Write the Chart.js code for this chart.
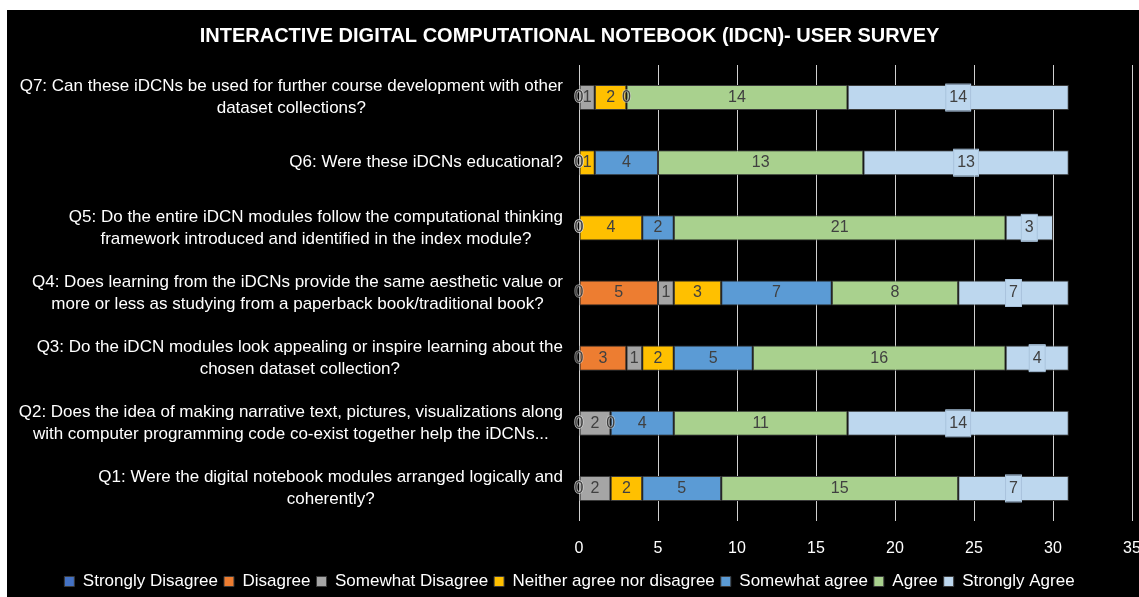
<!DOCTYPE html>
<html>
<head>
<meta charset="utf-8">
<script src="https://cdn.jsdelivr.net/npm/chart.js@4.4.0/dist/chart.umd.min.js"></script>
<style>
  html, body { margin: 0; padding: 0; background: #ffffff; }
  #panel { position: absolute; left: 7px; top: 10px; width: 1132px; height: 587px; background: #000000; overflow: hidden; }
</style>
</head>
<body>
<div id="panel"><canvas id="surveyChart" width="1132" height="587"></canvas></div>
<script>
// Survey questions (top to bottom), each split into the lines shown on the axis
const questions = [
  ['Q7: Can these iDCNs be used for further course development with other', 'dataset collections?'],
  ['Q6: Were these iDCNs educational?'],
  ['Q5: Do the entire iDCN modules follow the computational thinking', 'framework introduced and identified in the index module?'],
  ['Q4: Does learning from the iDCNs provide the same aesthetic value or', 'more or less as studying from a paperback book/traditional book?'],
  ['Q3: Do the iDCN modules look appealing or inspire learning about the', 'chosen dataset collection?'],
  ['Q2: Does the idea of making narrative text, pictures, visualizations along', 'with computer programming code co-exist together help the iDCNs...'],
  ['Q1: Were the digital notebook modules arranged logically and', 'coherently?']
];

// Answer counts per question (Q7 ... Q1)
const stronglyDisagree = [0, 0, 0, 0, 0, 0, 0];
const disagree         = [0, 0, 0, 5, 3, 0, 0];
const somewhatDisagree = [1, 0, 0, 1, 1, 2, 2];
const neither          = [2, 1, 4, 3, 2, 0, 2];
const somewhatAgree    = [0, 4, 2, 7, 5, 4, 5];
const agree            = [14, 13, 21, 8, 16, 11, 15];
const stronglyAgree    = [14, 13, 3, 7, 4, 14, 7];

const xTicks = [0, 5, 10, 15, 20, 25, 30, 35];

const FONT = "'Liberation Sans', Arial, sans-serif";

// draws the multi-line question labels (right aligned block, lines centred)
const questionLabels = {
  id: 'questionLabels',
  afterDraw(chart) {
    const ctx = chart.ctx;
    const yScale = chart.scales.y;
    const right = chart.chartArea.left - 16;
    ctx.save();
    ctx.font = '17px ' + FONT;
    ctx.fillStyle = '#ffffff';
    ctx.textAlign = 'center';
    ctx.textBaseline = 'middle';
    questions.forEach((lines, i) => {
      const y = yScale.getPixelForValue(i);
      let widest = 0;
      lines.forEach(l => { widest = Math.max(widest, ctx.measureText(l).width); });
      const cx = right - widest / 2;
      const lh = 22;
      const top = y - (lines.length - 1) * lh / 2;
      lines.forEach((l, k) => ctx.fillText(l, cx, top + k * lh));
    });
    ctx.restore();
  }
};

// value labels in the middle of each segment
const valueLabels = {
  id: 'valueLabels',
  afterDatasetsDraw(chart) {
    const ctx = chart.ctx;
    ctx.save();
    ctx.font = '16px ' + FONT;
    ctx.textAlign = 'center';
    ctx.textBaseline = 'middle';
    chart.data.datasets.forEach((ds, di) => {
      const meta = chart.getDatasetMeta(di);
      meta.data.forEach((bar, i) => {
        const v = ds.data[i];
        const cx = (bar.x + bar.base) / 2;
        const txt = String(v);
        if (di === chart.data.datasets.length - 1) {
          const w = ctx.measureText(txt).width + 8;
          ctx.fillStyle = '#BDD7EE';
          ctx.strokeStyle = '#a9c3dc';
          ctx.lineWidth = 1;
          ctx.fillRect(cx - w / 2, bar.y - 13, w, 26);
          ctx.strokeRect(cx - w / 2 + 0.5, bar.y - 13.5, w - 1, 27);
        }
        if (v === 0) {
          ctx.lineWidth = 1.5;
          ctx.strokeStyle = 'rgba(220,220,220,0.6)';
          ctx.strokeText(txt, cx, bar.y);
        }
        ctx.fillStyle = '#404040';
        ctx.fillText(txt, cx, bar.y);
      });
    });
    ctx.restore();
  }
};

const ctxBar = document.getElementById('surveyChart');

const barChart = new Chart(ctxBar, {
  type: 'bar',
  data: {
    labels: questions.map(q => q.join(' ')),
    datasets: [
      { label: 'Strongly Disagree', data: stronglyDisagree, backgroundColor: '#4472C4' },
      { label: 'Disagree', data: disagree, backgroundColor: '#ED7D31' },
      { label: 'Somewhat Disagree', data: somewhatDisagree, backgroundColor: '#A5A5A5' },
      { label: 'Neither agree nor disagree', data: neither, backgroundColor: '#FFC000' },
      { label: 'Somewhat agree', data: somewhatAgree, backgroundColor: '#5B9BD5' },
      { label: 'Agree', data: agree, backgroundColor: '#A9D18E' },
      { label: 'Strongly Agree', data: stronglyAgree, backgroundColor: '#BDD7EE' }
    ]
  },
  options: {
    indexAxis: 'y',
    responsive: false,
    animation: false,
    datasets: {
      bar: {
        borderColor: '#3a3a3a',
        borderWidth: 1,
        borderSkipped: false,
        categoryPercentage: 1,
        barPercentage: 0.385
      }
    },
    layout: { padding: { left: 0, right: 7, top: 0, bottom: -3 } },
    plugins: {
      title: {
        display: true,
        text: 'INTERACTIVE DIGITAL COMPUTATIONAL NOTEBOOK (IDCN)- USER SURVEY',
        color: '#ffffff',
        font: { family: FONT, size: 20, weight: 'bold', lineHeight: 1.2 },
        padding: { top: 14, bottom: 17 }
      },
      legend: {
        position: 'bottom',
        labels: {
          color: '#ffffff',
          font: { family: FONT, size: 17 },
          boxWidth: 10,
          boxHeight: 10,
          padding: 6
        }
      },
      tooltip: { enabled: false }
    },
    scales: {
      x: {
        stacked: true,
        min: 0,
        max: 35,
        afterBuildTicks(scale) { scale.ticks = xTicks.map(v => ({ value: v })); },
        afterFit(scale) { scale.paddingRight = 0; scale.paddingLeft = 0; scale.height = 46; },
        grid: { color: '#d0d0d0', drawTicks: false },
        border: { display: false },
        ticks: { color: '#ffffff', font: { family: FONT, size: 16 }, padding: 18 }
      },
      y: {
        stacked: true,
        grid: { display: false },
        border: { display: false },
        ticks: { display: false },
        afterFit(scale) { scale.width = 572; }
      }
    }
  },
  plugins: [questionLabels, valueLabels]
});
</script>
</body>
</html>
